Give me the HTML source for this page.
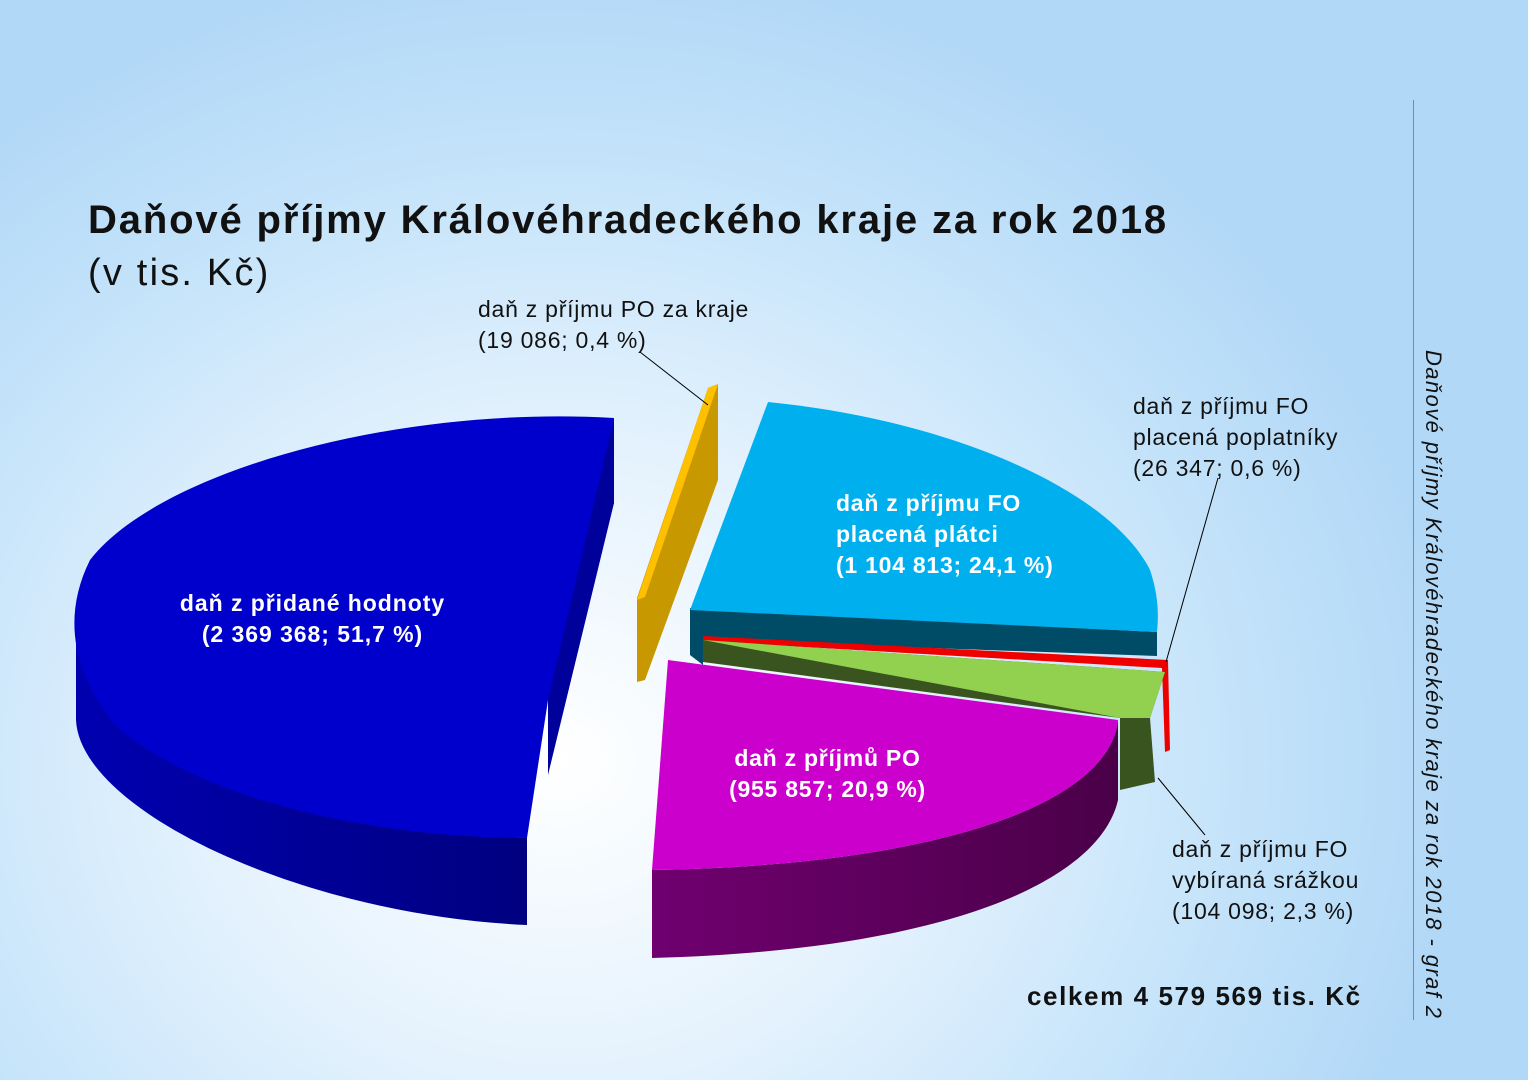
<!DOCTYPE html>
<html><head><meta charset="utf-8"><style>
html,body{margin:0;padding:0}
body{width:1528px;height:1080px;overflow:hidden;position:relative;font-family:"Liberation Sans",Arial,sans-serif;
background:radial-gradient(ellipse 900px 800px at 560px 760px,#ffffff 0%,#e4f2fd 40%,#c4e3fa 75%,#b2d8f7 100%);}
.t{position:absolute;white-space:nowrap;color:#111;letter-spacing:0.75px}
</style></head><body>
<svg width="1528" height="1080" style="position:absolute;left:0;top:0">
<defs>
<linearGradient id="bs" x1="0" y1="0" x2="1" y2="0"><stop offset="0" stop-color="#0000b0"/><stop offset="1" stop-color="#000080"/></linearGradient>
<linearGradient id="ps" x1="0" y1="0" x2="1" y2="0"><stop offset="0" stop-color="#700070"/><stop offset="1" stop-color="#4a0048"/></linearGradient>
</defs>
<path d="M548,690 L614,503 L614,418 Z" fill="#0000a8"/>
<path d="M614,418 L614,503 L548,775 L548,690 Z" fill="#00009a"/>
<path d="M76,640 C80,730 300,830 527,838 L527,925 C300,915 80,810 76,720 Z" fill="url(#bs)"/>
<path d="M548,700 L614,418 C400,405 160,470 90,560 C60,620 75,680 120,730 C220,810 400,838 527,838 Z" fill="#0000cc"/>
<polygon points="708,388 718,384 718,480 645,680 637,682 637,598" fill="#c89800"/>
<polygon points="708,388 718,384 645,597 637,600" fill="#ffc000"/>
<polygon points="690,608 1157,632 1157,656 703,640 703,665 690,655" fill="#004c66"/>
<path d="M690,610 L768,402 C950,420 1110,490 1150,570 C1160,600 1158,620 1157,632 Z" fill="#00b0ee"/>
<polygon points="703,636 1168,660 1170,750 1165,752 1162,668 703,641" fill="#ee0000"/>
<polygon points="703,640 703,662 1120,718 1120,790 1155,782 1150,718 1165,672" fill="#3a5420"/>
<polygon points="703,640 1165,672 1150,718 1120,718" fill="#92d050"/>
<path d="M1118,720 C1110,800 950,865 652,870 L652,958 C950,950 1100,880 1118,800 Z" fill="url(#ps)"/>
<path d="M668,660 L1118,720 C1110,800 950,865 652,870 Z" fill="#cc00cc"/>
<line x1="640" y1="352" x2="708" y2="405" stroke="#000" stroke-width="1"/>
<line x1="1218" y1="478" x2="1166" y2="662" stroke="#000" stroke-width="1"/>
<line x1="1158" y1="778" x2="1205" y2="835" stroke="#000" stroke-width="1"/>
<line x1="1413.5" y1="100" x2="1413.5" y2="1020" stroke="#888" stroke-width="1"/>
</svg>
<div class="t" style="left:88px;top:198px;font-size:40px;font-weight:bold;letter-spacing:1.85px">Daňové příjmy Královéhradeckého kraje za rok 2018</div>
<div class="t" style="left:88px;top:252px;font-size:38px;letter-spacing:2.2px">(v tis. Kč)</div>
<div class="t" style="left:478px;top:294px;font-size:23px;line-height:31px">daň z příjmu PO za kraje<br>(19 086; 0,4 %)</div>
<div class="t" style="left:1133px;top:391px;font-size:23px;line-height:31px">daň z příjmu FO<br>placená poplatníky<br>(26 347; 0,6 %)</div>
<div class="t" style="left:1172px;top:834px;font-size:23px;line-height:31px">daň z příjmu FO<br>vybíraná srážkou<br>(104 098; 2,3 %)</div>
<div class="t" style="left:836px;top:488px;font-size:23px;line-height:31px;font-weight:bold;color:#fff">daň z příjmu FO<br>placená plátci<br>(1 104 813; 24,1 %)</div>
<div class="t" style="left:150px;top:588px;width:325px;text-align:center;font-size:23px;line-height:31px;font-weight:bold;color:#fff;letter-spacing:0.95px">daň z přidané hodnoty<br>(2 369 368; 51,7 %)</div>
<div class="t" style="left:700px;top:743px;width:255px;text-align:center;font-size:23px;line-height:31px;font-weight:bold;color:#fff">daň z příjmů PO<br>(955 857; 20,9 %)</div>
<div class="t" style="left:1027px;top:981px;font-size:26px;font-weight:bold;letter-spacing:1.6px">celkem 4 579 569 tis. Kč</div>
<div class="t" style="left:1420px;top:350px;font-size:22px;font-style:italic;letter-spacing:1.4px;transform-origin:0 0;transform:translate(26px,0) rotate(90deg)">Daňové příjmy Královéhradeckého kraje za rok 2018 - graf 2</div>
</body></html>
